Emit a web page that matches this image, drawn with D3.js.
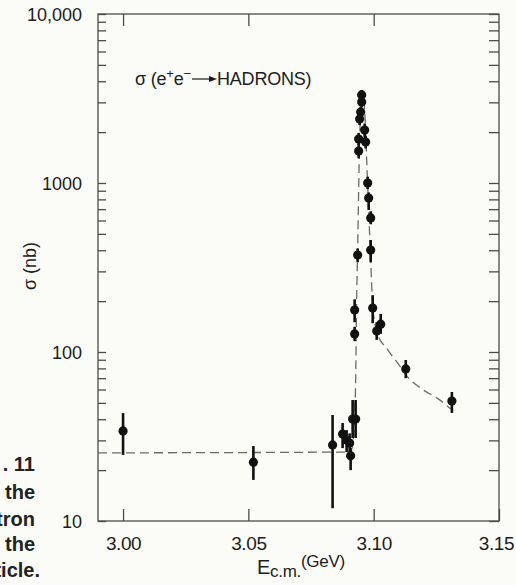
<!DOCTYPE html>
<html><head><meta charset="utf-8">
<script src="https://cdn.jsdelivr.net/npm/d3@7/dist/d3.min.js"></script>
<style>
html,body{margin:0;padding:0;background:#fbfbf8;}
svg{display:block;font-family:"Liberation Sans",Arial,Helvetica,sans-serif;}
</style></head><body>
<svg id="c" width="516" height="585"></svg>
<script>
// ---- data ----
const energy = [3.000,3.052,3.0836,3.0876,3.0892,3.0904,3.0908,3.0916,3.0928,3.0924,3.0924,3.0936,3.0940,3.0940,3.0944,3.0948,3.0952,3.0952,3.0964,3.0968,3.0976,3.0980,3.0988,3.0988,3.0996,3.1012,3.1028,3.1128,3.1312];
const sigma  = [34.1,22.3,28.2,32.7,30.1,28.9,24.3,40.1,40.1,128,177,375,1546,1820,2392,2631,3015,3318,2058,1748,1000,815,621,401,182,133,146,79.4,51.3];
const errLow = [24.6,17.5,11.9,27,25.6,25,20,31,31,116,150,340,1400,1680,2200,2450,2800,3100,1850,1600,920,692,570,340,148,118,128,70,43.6];
const errHigh= [43.5,27.8,42.4,38,34.5,33,27,52,52,141,205,410,1700,1980,2600,2830,3250,3550,2250,1900,1090,880,680,460,217,150,168,89.7,58];

const fitE     = [2.99,3.0908,3.0916,3.0924,3.0928,3.0932,3.0936,3.0940,3.0944,3.0948,3.0956,3.0964,3.0972,3.0980,3.0988,3.0996,3.1012,3.1056,3.1096,3.1136,3.1188,3.1256,3.1308];
const fitSigma = [25.3,25.6,28.2,39.6,68,203,401,909,1796,2704,3318,2704,1368,692,350,190,132,103,86,71,61,53,46];

const xTicks = [3.00,3.05,3.10,3.15];
const xTickLabels = ["3.00","3.05","3.10","3.15"];
const yMajor = [10,100,1000,10000];
const yMajorLabels = ["10","100","1000","10,000"];

// ---- layout ----
const svg = d3.select("#c");
const L=98, R=499, T=14, B=521;
const x = d3.scaleLinear().domain([2.99,3.15]).range([L,R]);
const y = d3.scaleLog().domain([10,10000]).range([B,T]);

const frameCol="#4a4a4a", textCol="#1c1c1c";

const yTicksAll = [];
for (let d=10; d<10000; d*=10) for (let m=1;m<10;m++) yTicksAll.push(d*m);
yTicksAll.push(10000);

const yFmt = v => { const i = yMajor.indexOf(v); return i>=0 ? yMajorLabels[i] : ""; };

const gl = svg.append("g").attr("transform",`translate(${L},0)`)
  .call(d3.axisLeft(y).tickValues(yTicksAll).tickSize(-8).tickPadding(16).tickFormat(yFmt));
const gr = svg.append("g").attr("transform",`translate(${R},0)`)
  .call(d3.axisRight(y).tickValues(yTicksAll).tickSize(-10).tickFormat(""));
const gb = svg.append("g").attr("transform",`translate(0,${B})`)
  .call(d3.axisBottom(x).tickValues(xTicks).tickSize(-12).tickPadding(16)
        .tickFormat((v,i)=>xTickLabels[i]));
const gt = svg.append("g").attr("transform",`translate(0,${T})`)
  .call(d3.axisTop(x).tickValues(xTicks.slice(0,3)).tickSize(-12).tickFormat(""));

[gl,gr,gb,gt].forEach(g=>{
  g.attr("font-size",null).attr("font-family",null);
  g.select(".domain").remove();
  g.selectAll(".tick line").attr("stroke",frameCol).attr("stroke-width",1.3);
  g.selectAll(".tick text").attr("fill",textCol).attr("font-size",18).style("font-size","18px");
});
gl.selectAll(".tick text").attr("dy","0.36em");
gb.selectAll(".tick text").style("font-size","19px").style("letter-spacing","-0.4px");
// last label sits at the page edge: pull it slightly inward
gb.selectAll(".tick text").filter((d,i)=>i===xTicks.length-1).attr("dx",-3);

svg.append("rect").attr("x",L).attr("y",T).attr("width",R-L).attr("height",B-T)
  .attr("fill","none").attr("stroke",frameCol).attr("stroke-width",1.3);

// fit curve
const line = d3.line().x((d,i)=>x(fitE[i])).y((d,i)=>y(fitSigma[i])).curve(d3.curveMonotoneX);
svg.append("path").datum(fitE).attr("d",line).attr("fill","none")
  .attr("stroke","#6a6a6a").attr("stroke-width",1.3).attr("stroke-dasharray","9,5");

// error bars
const pts = energy.map((e,i)=>({e, s:sigma[i], lo:errLow[i], hi:errHigh[i]}));
svg.append("g").selectAll("line").data(pts).join("line")
  .attr("x1",d=>x(d.e)).attr("x2",d=>x(d.e))
  .attr("y1",d=>y(d.lo)).attr("y2",d=>y(d.hi))
  .attr("stroke","#111").attr("stroke-width",2.6);
svg.append("g").selectAll("circle").data(pts).join("circle")
  .attr("cx",d=>x(d.e)).attr("cy",d=>y(d.s)).attr("r",4.6).attr("fill","#111");

// title
const tt = svg.append("g").attr("fill",textCol).style("font-size","18px").style("letter-spacing","-0.2px");
const t1 = tt.append("text").attr("x",135).attr("y",85);
t1.append("tspan").text("σ");
t1.append("tspan").text(" (e");
t1.append("tspan").attr("dy",-7).style("font-size","13px").text("+");
t1.append("tspan").attr("dy",7).text("e");
t1.append("tspan").attr("dy",-7).style("font-size","13px").text("−");
const tEnd = 135 + t1.node().getComputedTextLength();
svg.append("line").attr("x1",tEnd+1).attr("x2",211).attr("y1",79).attr("y2",79).attr("stroke",textCol).attr("stroke-width",1.2);
svg.append("path").attr("d","M209,76 L217,79 L209,82 Z").attr("fill",textCol);
tt.append("text").attr("x",217).attr("y",85).text("HADRONS)");

// y axis title
svg.append("text").attr("transform","translate(36,266) rotate(-90)").attr("text-anchor","middle")
  .attr("fill",textCol).style("font-size","18px").text("σ (nb)");

// x axis title
const xt = svg.append("text").attr("x",257).attr("y",574).attr("fill",textCol).style("letter-spacing","-0.3px");
xt.append("tspan").style("font-size","20px").text("E");
xt.append("tspan").attr("dy",3).style("font-size","17px").text("c.m.");
xt.append("tspan").attr("dy",-10).style("font-size","17px").text("(GeV)");

// cut-off caption fragments at left edge
const cap = [".  11","the","tron","the","ticle."];
const capY = [471,499,526,551,577];
svg.append("g").selectAll("text").data(cap).join("text")
  .attr("x",(d,i)=> i===4 ? 40 : 35).attr("y",(d,i)=>capY[i]).attr("text-anchor","end")
  .attr("fill","#222").style("font-size","20px").style("font-weight","bold").text(d=>d);
</script>
</body></html>
